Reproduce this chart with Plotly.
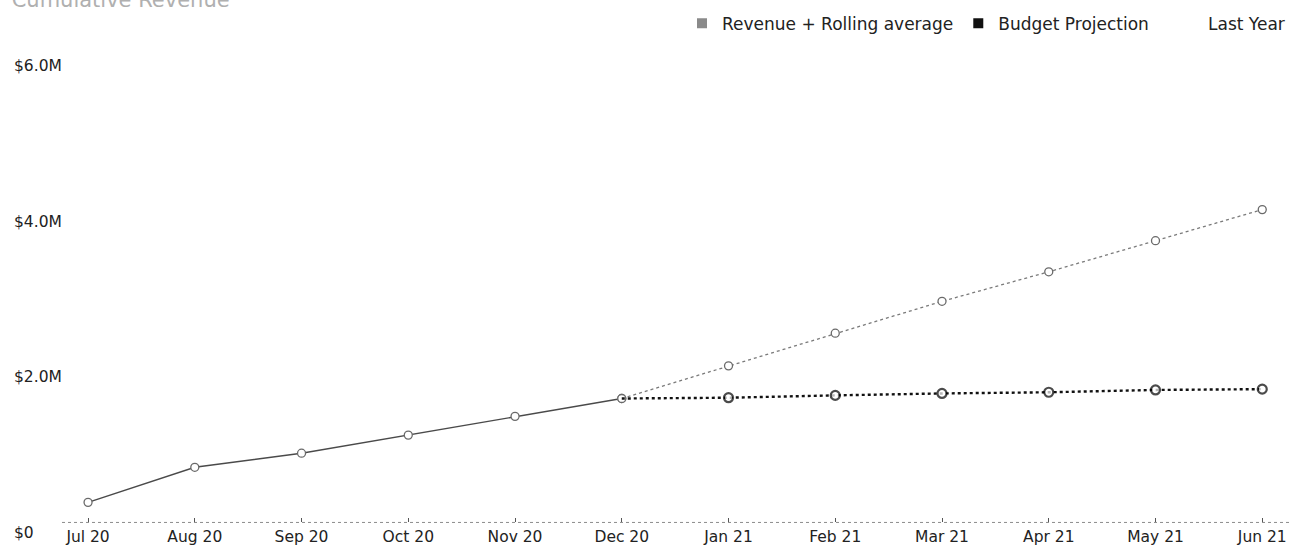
import plotly.graph_objects as go

# ---------------- data (values in $M) ----------------
months = ["Jul 20", "Aug 20", "Sep 20", "Oct 20", "Nov 20", "Dec 20",
          "Jan 21", "Feb 21", "Mar 21", "Apr 21", "May 21", "Jun 21"]
actual_months = months[:6]
forecast_months = months[5:]
budget_months = months[6:]

revenue_actual = [0.384, 0.835, 1.016, 1.249, 1.49, 1.72]
revenue_forecast = [1.72, 2.14, 2.56, 2.97, 3.35, 3.75, 4.15]
budget_projection = [1.73, 1.76, 1.785, 1.80, 1.83, 1.84]

y_tick_values = [0, 2, 4, 6]
y_tick_labels = ["$0", "$2.0M", "$4.0M", "$6.0M"]

legend_names = ["Revenue + Rolling average", "Budget Projection", "Last Year"]
legend_colors = ["#8a8a8a", "#111111", "rgba(0,0,0,0)"]
legend_groups = ["legend", "legend", "legend2"]

# ---------------- styling / geometry ----------------
W, H = 1296, 554
ML, MR, MT, MB = 10, 6, 46, 10
FONT = "DejaVu Sans"
X_AXIS_POS = 0.044

fig = go.Figure()

# actual revenue (solid)
fig.add_trace(go.Scatter(
    x=actual_months, y=revenue_actual, mode="lines+markers",
    line=dict(color="#4a4a4a", width=1.4),
    marker=dict(symbol="circle", size=8, color="white",
                line=dict(color="#6a6a6a", width=1.3)),
    showlegend=False, hoverinfo="x+y"))

# rolling-average forecast (dotted gray)
fig.add_trace(go.Scatter(
    x=forecast_months, y=revenue_forecast, mode="lines+markers",
    line=dict(color="#7a7a7a", width=1.3, dash="dot"),
    marker=dict(symbol="circle", size=8, color="white",
                line=dict(color="#6a6a6a", width=1.3)),
    showlegend=False, hoverinfo="x+y"))

# budget projection (dotted black), connected from last actual point
fig.add_trace(go.Scatter(
    x=[actual_months[-1]] + budget_months,
    y=[revenue_actual[-1]] + budget_projection,
    mode="lines+markers",
    line=dict(color="#111111", width=2.4, dash="dot"),
    marker=dict(symbol="circle", size=[0] + [9] * len(budget_projection),
                color="white", line=dict(color="#000000", width=2.2)),
    showlegend=False, hoverinfo="x+y"))

# legend entries
for name, col, lg in zip(legend_names, legend_colors, legend_groups):
    fig.add_trace(go.Scatter(
        x=[None], y=[None], mode="markers", name=name, legend=lg,
        marker=dict(symbol="square", size=10, color=col)))

# dotted baseline
fig.add_shape(type="line", xref="paper", yref="paper",
              x0=(62 - ML) / (W - ML - MR), x1=1, y0=X_AXIS_POS, y1=X_AXIS_POS,
              line=dict(color="#8c8c8c", width=1, dash="dot"))

legend_style = dict(orientation="h", xanchor="right", y=1.062, yanchor="middle",
                    font=dict(family=FONT, size=17, color="#222222"),
                    bgcolor="rgba(0,0,0,0)", itemclick=False)

fig.update_layout(
    width=W, height=H,
    margin=dict(l=ML, r=MR, t=MT, b=MB),
    paper_bgcolor="white", plot_bgcolor="white",
    font=dict(family=FONT, color="#222222", size=15),
    title=dict(text="Cumulative Revenue", x=0.009, xanchor="left",
               xref="container", yref="container", y=1.0, yanchor="middle",
               font=dict(family=FONT, size=21, color="#b0b0b0")),
    legend=dict(x=(1154 - ML) / (W - ML - MR), **legend_style),
    legend2=dict(x=1.0, **legend_style),
    xaxis=dict(
        type="category", categoryorder="array", categoryarray=months,
        domain=[(62 - ML) / (W - ML - MR), 1],
        range=[-0.244, 11.26],
        anchor="free", position=X_AXIS_POS,
        showgrid=False, zeroline=False, showline=False,
        ticks="inside", ticklen=4, tickcolor="#555555", tickwidth=1,
        tickfont=dict(family=FONT, size=15.5, color="#222222"),
        ticklabelstandoff=3,
    ),
    yaxis=dict(
        range=[-0.152, 6.152],
        anchor="free", position=0,
        tickvals=y_tick_values, ticktext=y_tick_labels,
        ticklabelposition="inside",
        showgrid=False, zeroline=False, showline=False, ticks="",
        tickfont=dict(family=FONT, size=15.5, color="#222222"),
    ),
)

fig.write_html("out.html")
